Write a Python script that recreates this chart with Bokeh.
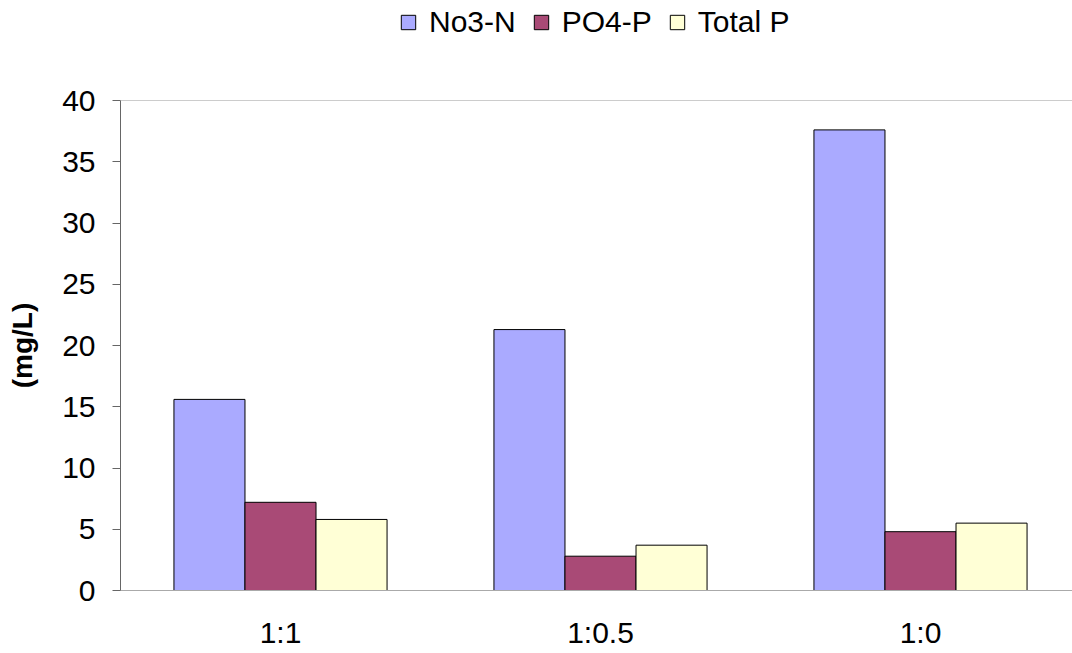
from bokeh.plotting import figure
from bokeh.models import (ColumnDataSource, Range1d, FixedTicker, Legend, LegendItem, Span)
from bokeh.layouts import column
from bokeh.embed import file_html
from bokeh.resources import INLINE

categories = ["1:1", "1:0.5", "1:0"]
no3_n = [15.6, 21.3, 37.6]
po4_p = [7.2, 2.8, 4.8]
total_p = [5.8, 3.7, 5.5]
series_names = ["No3-N", "PO4-P", "Total P"]
colors = ["#AAAAFF", "#A94A76", "#FFFFD6"]

FONT = "Liberation Sans"
centers = [0.5, 1.5, 2.5]

# ---- legend strip ----
lg = figure(width=1072, height=80, output_backend="svg", toolbar_location=None,
            x_range=Range1d(0, 1), y_range=Range1d(0, 1))
lg.axis.visible = False
lg.grid.visible = False
lg.outline_line_color = None
lg.min_border = 0
dummy = []
for col in colors:
    # placeholder renderer kept outside the visible range; only used for legend swatches
    r = lg.vbar(x=[10], top=[10], bottom=[9], width=0.1, fill_color=col,
                line_color="#000000", line_width=1)
    dummy.append(r)
legend = Legend(items=[LegendItem(label=n, renderers=[r]) for n, r in zip(series_names, dummy)],
                orientation="horizontal", location=(279, 41),
                label_text_font=FONT, label_text_font_size="30px", label_text_color="#000000",
                glyph_width=18, glyph_height=18, label_standoff=12, spacing=16,
                padding=0, margin=0, border_line_alpha=0, background_fill_alpha=0)
lg.add_layout(legend, "center")

# ---- main chart ----
p = figure(width=1072, height=573, output_backend="svg", toolbar_location=None,
           x_range=Range1d(0, 2.975), y_range=Range1d(0, 40))
p.min_border_left = 120
p.min_border_right = 0
p.min_border_top = 20
p.min_border_bottom = 63
p.outline_line_color = None
p.xgrid.visible = False
p.ygrid.visible = False

bw = 0.222
offsets = [-bw, 0.0, bw]
for vals, off, col in zip([no3_n, po4_p, total_p], offsets, colors):
    src = ColumnDataSource(dict(x=[c + off for c in centers], top=vals))
    p.vbar(x="x", top="top", width=bw, bottom=0, source=src,
           fill_color=col, line_color="#000000", line_width=1)

# y axis
p.yaxis.ticker = FixedTicker(ticks=[0, 5, 10, 15, 20, 25, 30, 35, 40])
p.yaxis.axis_label = "(mg/L)"
p.yaxis.axis_label_text_font = FONT
p.yaxis.axis_label_text_font_style = "bold"
p.yaxis.axis_label_text_font_size = "28px"
p.yaxis.axis_label_text_color = "#000000"
p.yaxis.axis_label_standoff = 21
p.yaxis.major_label_text_font = FONT
p.yaxis.major_label_text_font_size = "30px"
p.yaxis.major_label_text_color = "#000000"
p.yaxis.axis_line_color = "#666666"
p.yaxis.major_tick_line_color = "#666666"
p.yaxis.major_tick_out = 8
p.yaxis.major_tick_in = 0
p.yaxis.minor_tick_line_color = None
p.yaxis.major_label_standoff = 17

# x axis
p.xaxis.ticker = FixedTicker(ticks=centers)
p.xaxis.major_label_overrides = {c: lab for c, lab in zip(centers, categories)}
p.xaxis.major_label_text_font = FONT
p.xaxis.major_label_text_font_size = "30px"
p.xaxis.major_label_text_color = "#000000"
p.xaxis.axis_line_color = "#AAAAAA"
p.xaxis.major_tick_line_color = None
p.xaxis.minor_tick_line_color = None
p.xaxis.major_label_standoff = 19

p.add_layout(Span(location=40, dimension="width", line_color="#999999", line_width=1))

layout = column(lg, p, spacing=0)
open("out.html", "w").write(file_html(layout, INLINE))
